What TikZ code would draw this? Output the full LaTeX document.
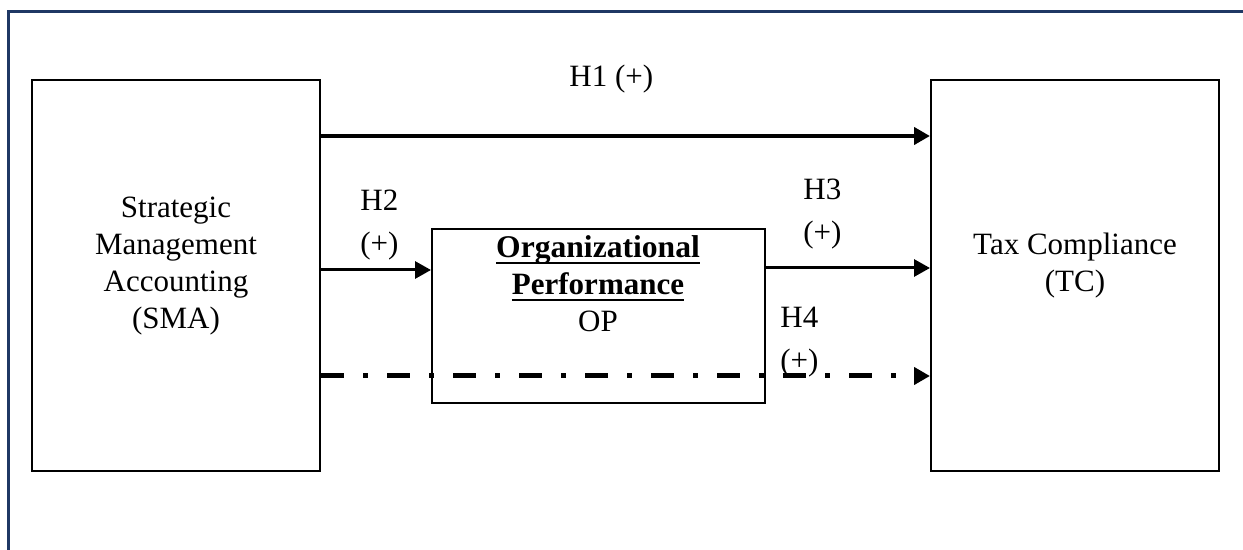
\documentclass[tikz,border=0pt]{standalone}
\usepackage{fontspec}
\setmainfont{Liberation Serif}
\usetikzlibrary{arrows.meta}
\definecolor{navyframe}{HTML}{1F3864}
\newcommand{\opline}[1]{\setbox0\hbox{#1}\rlap{\rule[-3pt]{\wd0}{1pt}}\box0}

\begin{document}
\begin{tikzpicture}[x=0.5pt,y=-0.5pt,
		box/.style={draw,line width=1pt,inner sep=0pt},
		txt/.style={font=\fontsize{15.5}{18.5}\selectfont,align=center},
		hyp/.style={font=\fontsize{15.5}{21.5}\selectfont,align=left,anchor=west,inner sep=0pt},
		link/.style={-{Triangle[length=8pt,width=8.5pt]},line width=1.5pt}]
	\useasboundingbox (0,0) rectangle (1243,550);
	\draw[navyframe,line width=1.5pt] (8,560) -- (8,12) -- (1250,12);
	\node[box,minimum width=144pt,minimum height=195.5pt] (sma) at (176,276) {};
	\node[box,minimum width=144pt,minimum height=195.5pt] (tc) at (1075,276) {};
	\node[box,minimum width=166.5pt,minimum height=87pt] (op) at (598.5,316) {};
	\node[txt] (smatext) at (176,266) {Strategic\\Management\\Accounting\\(SMA)};
	\node[txt] (optext) at (598,284) {\fontsize{15.8}{17.8}\selectfont\textbf{\opline{Organizational}}\\\textbf{\opline{Performance}}\\OP};
	\node[txt] (tctext) at (1075,266) {Tax Compliance\\(TC)};
	\draw[link,line width=2pt] ([yshift=70pt]sma.east) -- ([yshift=70pt]tc.west);
	\draw[link] ([yshift=3pt]sma.east) -- ([yshift=23pt]op.west);
	\draw[link] ([yshift=24pt]op.east) -- ([yshift=4pt]tc.west);
	\draw[link,line width=2.5pt,dash pattern=on 11.5pt off 9.5pt on 2.5pt off 9.5pt] ([yshift=-50pt]sma.east) -- ([yshift=-50pt]tc.west);
	\node[hyp] (h1) at (569,79) {H1 (+)};
	\node[hyp] (h2) at (360,225) {H2\\(+)};
	\node[hyp] (h3) at (803,214) {H3\\(+)};
	\node[hyp] (h4) at (780,342) {H4\\(+)};
\end{tikzpicture}
\end{document}
